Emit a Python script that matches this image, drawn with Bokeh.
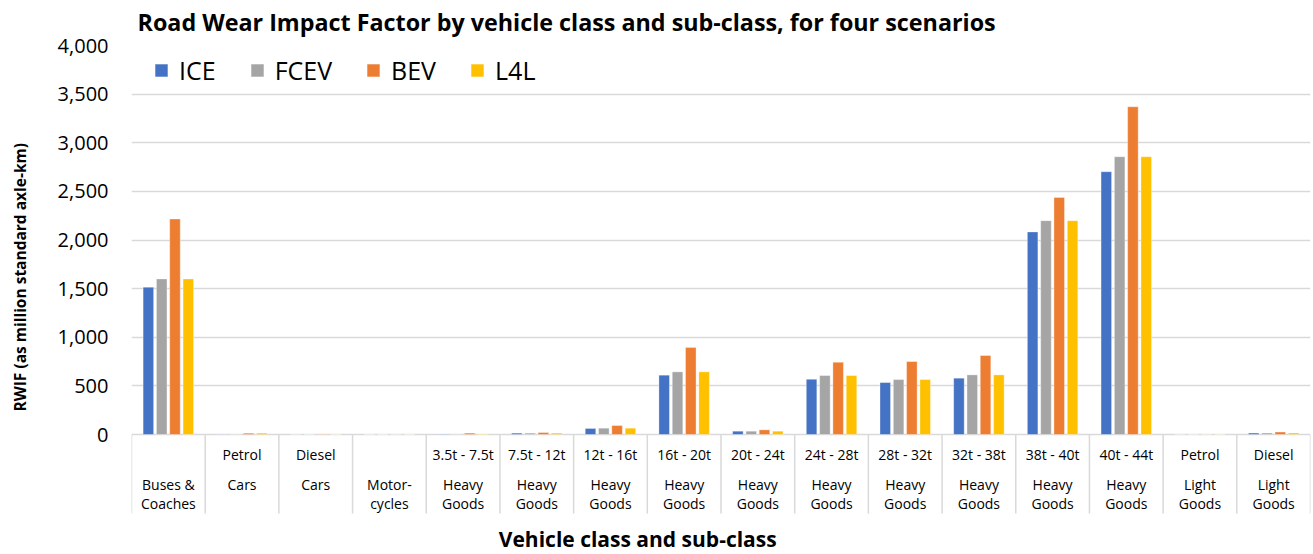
from bokeh.plotting import figure
from bokeh.models import (ColumnDataSource, FactorRange, Range1d, FixedTicker,
                          NumeralTickFormatter, Title, Legend, LegendItem)
from bokeh.transform import dodge
from bokeh.core.properties import value
from bokeh.embed import file_html
from bokeh.resources import INLINE

# ---------------- data ----------------
sub_class = ["", "Petrol", "Diesel", "", "3.5t - 7.5t", "7.5t - 12t", "12t - 16t",
             "16t - 20t", "20t - 24t", "24t - 28t", "28t - 32t", "32t - 38t",
             "38t - 40t", "40t - 44t", "Petrol", "Diesel"]
vehicle_class = ["Buses &\nCoaches", "Cars", "Cars", "Motor-\ncycles", "Heavy\nGoods",
                 "Heavy\nGoods", "Heavy\nGoods", "Heavy\nGoods", "Heavy\nGoods",
                 "Heavy\nGoods", "Heavy\nGoods", "Heavy\nGoods", "Heavy\nGoods",
                 "Heavy\nGoods", "Light\nGoods", "Light\nGoods"]
ice  = [1515, 3, 1, 0.5, 4, 14, 62, 610, 34, 568, 534, 579, 2083, 2702, 1, 15]
fcev = [1600, 3, 1, 0.5, 4, 14, 65, 644, 34, 606, 565, 613, 2199, 2856, 1, 15]
bev  = [2216, 14, 4, 1, 14, 20, 92, 894, 48, 743, 750, 812, 2438, 3370, 1, 25]
l4l  = [1600, 14, 1, 0.5, 4, 14, 65, 644, 34, 606, 565, 613, 2199, 2856, 1, 15]
series_names = ["ICE", "FCEV", "BEV", "L4L"]
series_colors = ["#4472C4", "#A5A5A5", "#ED7D31", "#FFC000"]
y_ticks = [0, 500, 1000, 1500, 2000, 2500, 3000, 3500, 4000]
chart_title = "Road Wear Impact Factor by vehicle class and sub-class, for four scenarios"
y_title = "RWIF (as million standard axle-km)"
x_title = "Vehicle class and sub-class"

# ---------------- layout constants ----------------
FONT = "Open Sans"
Y_MAX = 4000
FRAME_H = 509                     # frame runs to the bottom of the canvas
PX_PER_UNIT = 389 / 4000          # 0..4000 spans 389 px
Y_MIN = -(FRAME_H - 389) / PX_PER_UNIT
TABLE_Y = -79 / PX_PER_UNIT       # bottom of the category table

keys = [(s + " " + c.replace("\n", " ")).strip() for s, c in zip(sub_class, vehicle_class)]
line1 = [c.split("\n")[0] for c in vehicle_class]
line2 = [c.split("\n")[1] if "\n" in c else "" for c in vehicle_class]

src = ColumnDataSource(dict(key=keys, ICE=ice, FCEV=fcev, BEV=bev, L4L=l4l,
                            sub=sub_class, l1=line1, l2=line2))

p = figure(width=1313, height=554, output_backend="svg", toolbar_location=None,
           x_range=FactorRange(*keys, range_padding=0),
           y_range=Range1d(Y_MIN, Y_MAX),
           min_border_left=131, min_border_right=3,
           min_border_top=45, min_border_bottom=0)
p.outline_line_color = None
p.background_fill_color = "white"

p.title = Title(text=chart_title, align="left", offset=6, vertical_align="top",
                text_font=FONT, text_font_size="23.3px", text_font_style="bold",
                text_color="black", standoff=11)

# bars
offsets = [-0.271, -0.09, 0.09, 0.271]
items = []
for name, col, off in zip(series_names, series_colors, offsets):
    r = p.vbar(x=dodge("key", off, range=p.x_range), top=name, bottom=0, width=0.143,
               source=src, fill_color=col, line_color="white", line_alpha=0.35,
               line_width=1)
    items.append(LegendItem(label=name, renderers=[r]))

legend = Legend(items=items, orientation="horizontal", location=(22, 467),
                glyph_width=16, glyph_height=16, label_standoff=10, spacing=33,
                padding=5, margin=0, border_line_color=None, background_fill_alpha=0,
                label_text_font=FONT, label_text_font_size="25px",
                label_text_color="black")
p.add_layout(legend, "center")

# y axis
p.yaxis.ticker = FixedTicker(ticks=y_ticks)
p.yaxis.formatter = NumeralTickFormatter(format="0,0")
p.yaxis.axis_line_color = None
p.yaxis.major_tick_line_color = None
p.yaxis.minor_tick_line_color = None
p.yaxis.major_tick_out = 0
p.yaxis.major_label_standoff = 23
p.yaxis.major_label_text_font = FONT
p.yaxis.major_label_text_font_size = "20px"
p.yaxis.major_label_text_color = "black"

# y axis title: a spacer next to the tick labels, then the title at the far left
p.add_layout(Title(text=" ", text_font_size="1px", standoff=11.5), "left")
p.add_layout(Title(text=y_title, align="left", offset=143, vertical_align="top",
                   text_font=FONT, text_font_size="15.5px", text_font_style="bold",
                   text_color="black", standoff=14), "left")

p.ygrid.grid_line_color = "#D9D9D9"
p.ygrid.grid_line_width = 1.5
p.xgrid.grid_line_color = None

# x axis replaced by a table of category labels
p.xaxis.visible = False

p.segment(x0=dodge("key", -0.5, range=p.x_range), x1=dodge("key", -0.5, range=p.x_range),
          y0=0, y1=TABLE_Y, source=src, line_color="#D9D9D9", line_width=1.5)
p.segment(x0=dodge("key", 0.5, range=p.x_range), x1=dodge("key", 0.5, range=p.x_range),
          y0=0, y1=TABLE_Y, source=ColumnDataSource(dict(key=[keys[-1]])),
          line_color="#D9D9D9", line_width=1.5)

for field, px in (("sub", 20), ("l1", 50), ("l2", 69)):
    p.text(x="key", y=-px / PX_PER_UNIT, text=field, source=src, text_align="center",
           text_baseline="middle", text_font=value(FONT), text_font_size="14px",
           text_color="black")

# x axis title (Excel centres it on the chart area, not the plot area)
p.text(x=dodge("key", 0.37, range=p.x_range), y=-104 / PX_PER_UNIT, text=value(x_title),
       source=ColumnDataSource(dict(key=[keys[6]])), text_align="center",
       text_baseline="middle", text_font=value(FONT), text_font_size="21px",
       text_font_style="bold", text_color="black")

open("out.html", "w").write(file_html(p, INLINE))
